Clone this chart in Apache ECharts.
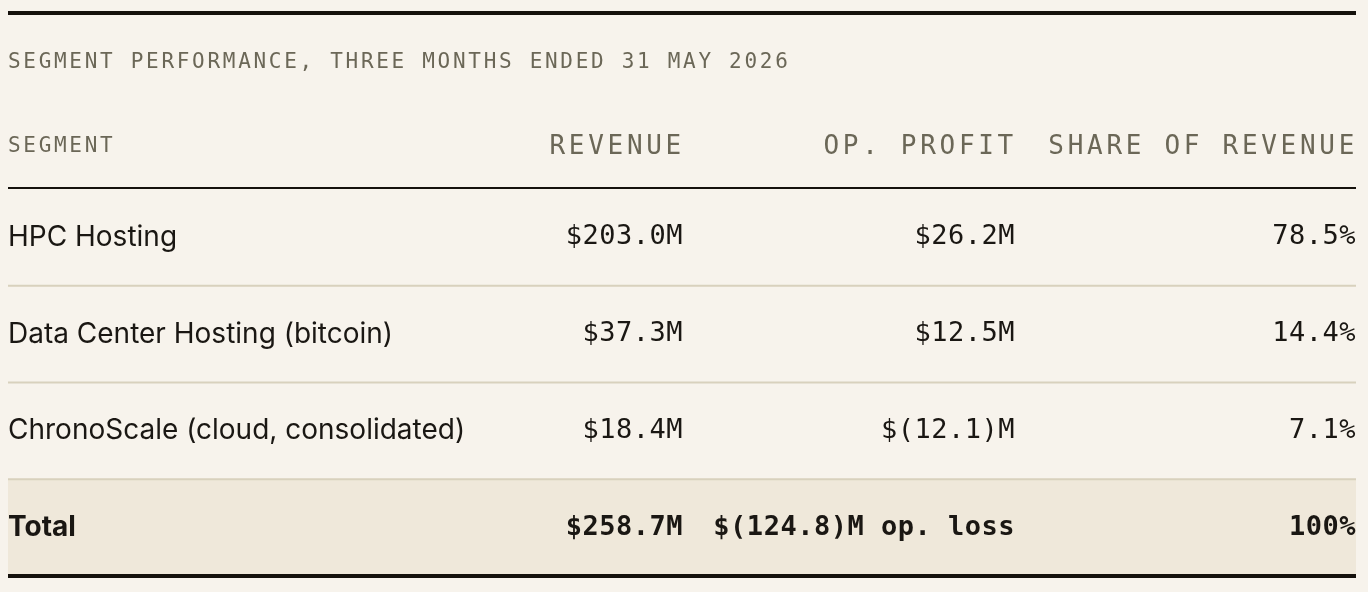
<!DOCTYPE html>
<html>
<head>
    <meta charset="UTF-8">
    <title>Segment performance</title>
    <script src="https://cdn.jsdelivr.net/npm/echarts@6/dist/echarts.min.js"></script>
    <style>
        html, body { margin: 0; padding: 0; background: #f7f3ec; }
        #table { width: 1368px; height: 592px; }
    </style>
</head>
<body>
    <div id="table"></div>

    <script>
        var caption = 'SEGMENT PERFORMANCE, THREE MONTHS ENDED 31 MAY 2026';
        var columns = ['SEGMENT', 'REVENUE', 'OP. PROFIT', 'SHARE OF REVENUE'];
        var segments = ['HPC Hosting', 'Data Center Hosting (bitcoin)', 'ChronoScale (cloud, consolidated)', 'Total'];
        var revenue = [203.0, 37.3, 18.4, 258.7];     // $M
        var opProfit = [26.2, 12.5, -12.1, -124.8];   // $M
        var share = [78.5, 14.4, 7.1, 100];           // % of revenue

        // right edge of each number column, as a fraction of the table width
        var colRight = [0, 0.5007, 0.747, 1];

        // canvas letter-spacing: a family named trkNN means NN/10 px of tracking
        var fillText0 = CanvasRenderingContext2D.prototype.fillText;
        CanvasRenderingContext2D.prototype.fillText = function () {
            var m = /trk(\d+)/.exec(this.font);
            this.letterSpacing = m ? (m[1] / 10) + 'px' : '0px';
            return fillText0.apply(this, arguments);
        };

        var MONO = "'DejaVu Sans Mono'";
        var SANS = "Inter, 'Noto Sans', sans-serif";

        function money(v) {
            return v < 0 ? '$(' + (-v).toFixed(1) + ')M' : '$' + v.toFixed(1) + 'M';
        }
        function pct(v) {
            return v === 100 ? '100%' : v.toFixed(1) + '%';
        }

        function cellText(i, k) {
            var last = i === segments.length - 1;
            if (k === 1) return money(revenue[i]);
            if (k === 2) return money(opProfit[i]) + (last && opProfit[i] < 0 ? ' op. loss' : '');
            return pct(share[i]);
        }

        function renderRow(params, api) {
            var i = api.value(1);
            var cs = params.coordSys;
            var y = api.coord([0, i])[1];
            var h = api.size([0, 1])[1];
            var top = y - h / 2;
            var last = i === segments.length - 1;
            var kids = [];

            if (last) {
                kids.push({ type: 'rect', shape: { x: cs.x, y: top, width: cs.width, height: h }, style: { fill: '#efe8da' } });
            }
            if (i === 0) {
                // header row + its rule
                kids.push({ type: 'rect', shape: { x: cs.x, y: top - 2, width: cs.width, height: 2 }, style: { fill: '#15110c' } });
                kids.push({
                    type: 'text',
                    style: { text: columns[0], x: cs.x, y: top - 42, align: 'left', verticalAlign: 'middle',
                        fontFamily: MONO + ', trk27', fontSize: 21, fill: '#6b6757' }
                });
                for (var k = 1; k < columns.length; k++) {
                    kids.push({
                        type: 'text',
                        style: { text: columns[k], x: api.coord([colRight[k], i])[0] + 2, y: top - 42,
                            align: 'right', verticalAlign: 'middle',
                            fontFamily: MONO + ', trk37', fontSize: 26, fill: '#6b6757' }
                    });
                }
            } else {
                kids.push({ type: 'rect', shape: { x: cs.x, y: top - 1, width: cs.width, height: 2 }, style: { fill: '#d8d1bd' } });
            }
            if (last) {
                kids.push({ type: 'rect', shape: { x: cs.x, y: top + h - 2, width: cs.width, height: 4 }, style: { fill: '#15110c' } });
            }

            kids.push({
                type: 'text',
                style: { text: segments[i], x: cs.x, y: y, align: 'left', verticalAlign: 'middle',
                    fontFamily: SANS, fontSize: 28, fontWeight: last ? 'bold' : 'normal', fill: '#1a1713' }
            });
            for (var c = 1; c < columns.length; c++) {
                kids.push({
                    type: 'text',
                    style: { text: cellText(i, c), x: api.coord([colRight[c], i])[0], y: y,
                        align: 'right', verticalAlign: 'middle',
                        fontFamily: MONO + ', trk5', fontSize: 27, fontWeight: last ? 'bold' : 'normal', fill: '#1a1713' }
                });
            }
            return { type: 'group', children: kids };
        }

        var chart = echarts.init(document.getElementById('table'), null, { renderer: 'canvas' });
        chart.setOption({
            backgroundColor: '#f7f3ec',
            animation: false,
            title: {
                text: caption, left: 8, top: 52, padding: 0,
                textStyle: { fontFamily: MONO + ', trk27', fontSize: 21, fontWeight: 'normal', color: '#6b6757' }
            },
            graphic: [
                { type: 'rect', left: 8, top: 11, shape: { width: 1348, height: 4 }, style: { fill: '#15110c' } }
            ],
            grid: { left: 8, right: 12, top: 189, bottom: 16 },
            xAxis: { type: 'value', min: 0, max: 1, show: false },
            yAxis: { type: 'category', data: segments, inverse: true, show: false },
            tooltip: { show: false },
            series: [{
                type: 'custom',
                renderItem: renderRow,
                encode: { x: 0, y: 1 },
                data: segments.map(function (s, i) { return [0, i]; })
            }]
        });
    </script>
</body>
</html>
